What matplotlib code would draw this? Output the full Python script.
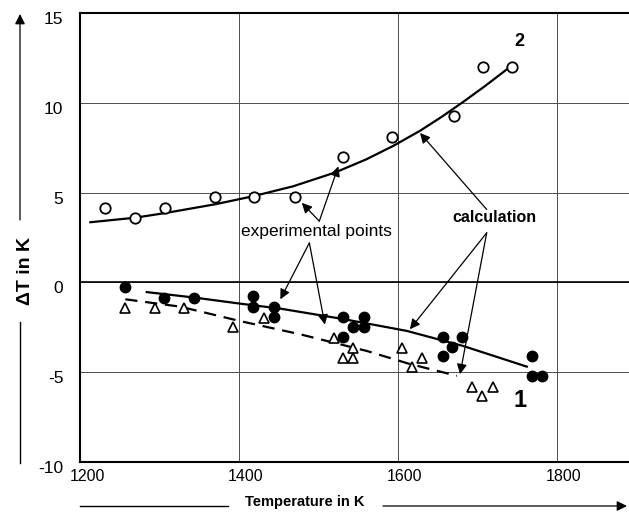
import matplotlib
matplotlib.use('Agg')
import matplotlib.pyplot as plt
from matplotlib.lines import Line2D
from matplotlib.transforms import ScaledTranslation

# Series 2: open circles and its calculated curve
t_open = [1231, 1269, 1307, 1370, 1419, 1470, 1531, 1593, 1670, 1707, 1744]
dt_open = [4.15, 3.59, 4.15, 4.74, 4.74, 4.74, 6.98, 8.09, 9.24, 12.02, 12.02]
t_calc2 = [1213, 1269, 1307, 1370, 1418, 1468, 1521, 1560, 1594, 1628, 1655, 1682, 1710, 1738]
dt_calc2 = [3.35, 3.60, 3.86, 4.35, 4.80, 5.35, 6.12, 6.85, 7.60, 8.45, 9.22, 10.05, 10.95, 11.9]

# Series 1: filled circles and solid calculated curve
t_filled = [1256, 1306, 1344, 1418, 1418, 1444, 1444, 1531, 1531, 1544,
            1557, 1557, 1656, 1656, 1668, 1681, 1768, 1768, 1781]
dt_filled = [-0.24, -0.85, -0.85, -0.76, -1.35, -1.35, -1.93, -1.93, -3.04, -2.46,
             -1.93, -2.46, -3.04, -4.09, -3.57, -3.04, -4.09, -5.2, -5.2]
t_calc1 = [1284, 1345, 1401, 1452, 1531, 1611, 1682, 1762]
dt_calc1 = [-0.54, -0.85, -1.18, -1.46, -2.04, -2.70, -3.54, -4.69]

# Open triangles and dashed calculated curve
t_tri = [1256, 1294, 1331, 1393, 1432, 1519, 1544, 1531, 1544, 1605,
         1630, 1618, 1693, 1706, 1719]
dt_tri = [-1.41, -1.41, -1.41, -2.46, -1.96, -3.07, -3.63, -4.19, -4.19, -3.63,
          -4.19, -4.69, -5.8, -6.31, -5.8]
t_calc3 = [1257, 1326, 1401, 1477, 1561, 1613, 1674]
dt_calc3 = [-0.94, -1.35, -2.15, -2.89, -3.82, -4.52, -5.2]

x_ticks = [1200, 1400, 1600, 1800]
y_ticks = [-10, -5, 0, 5, 10, 15]

sans = ['Liberation Sans', 'DejaVu Sans']

W, H = 629, 513
fig = plt.figure(figsize=(W / 100, H / 100), dpi=100)
ax = fig.add_axes([80 / W, 51 / H, 636 / W, 449 / H])

ax.set_xlim(1200, 2000)
ax.set_ylim(-10, 15)
ax.set_xticks(x_ticks)
ax.set_yticks(y_ticks)
ax.set_xticklabels([str(v) for v in x_ticks], family=sans, fontsize=11.5)
ax.set_yticklabels([str(v) for v in y_ticks], family=sans, fontsize=12.5)
ax.tick_params(length=0)
ax.tick_params(axis='y', pad=12)
ax.tick_params(axis='x', pad=5)
for lab in ax.get_xticklabels():
    lab.set_transform(lab.get_transform() + ScaledTranslation(0.07, 0, fig.dpi_scale_trans))
for lab in ax.get_yticklabels():
    lab.set_transform(lab.get_transform() + ScaledTranslation(0, -0.05, fig.dpi_scale_trans))

ax.grid(True, color='0.3', lw=0.7)
ax.axhline(0, color='black', lw=1.2)
for s in ['top', 'left', 'bottom']:
    ax.spines[s].set_linewidth(1.5)

# curves
ax.plot(t_calc2, dt_calc2, color='black', lw=1.6, zorder=3)
ax.plot(t_calc1, dt_calc1, color='black', lw=1.6, zorder=3)
ax.plot(t_calc3, dt_calc3, color='black', lw=1.6, dashes=(5.5, 3.5), zorder=3)

# experimental points
ax.plot(t_open, dt_open, 'o', ms=7.5, mfc='white', mec='black', mew=1.3, zorder=4)
ax.plot(t_filled, dt_filled, 'o', ms=7.5, mfc='black', mec='black', zorder=4)
ax.plot(t_tri, dt_tri, '^', ms=7, mfc='white', mec='black', mew=1.2, zorder=4)

# annotations
arrow = dict(arrowstyle='-|>', color='black', lw=0.9, mutation_scale=15,
             shrinkA=0, shrinkB=0)
ax.text(1498, 2.85, 'experimental points', family=sans, fontsize=12.5,
        ha='center', va='center', zorder=5)
for head in [(1479, 4.43), (1525, 6.46)]:
    ax.annotate('', xy=head, xytext=(1501, 3.41), arrowprops=arrow)
for head in [(1452, -0.94), (1508, -2.35)]:
    ax.annotate('', xy=head, xytext=(1488.5, 2.2), arrowprops=arrow)

ax.text(1721, 3.6, 'calculation', family=sans, fontsize=11.5, fontweight='bold',
        ha='center', va='center', zorder=5)
ax.annotate('', xy=(1627.7, 8.32), xytext=(1711.6, 4.06), arrowprops=arrow)
for head in [(1615, -2.61), (1678, -5.11)]:
    ax.annotate('', xy=head, xytext=(1711.6, 2.76), arrowprops=arrow)

ax.text(1753, 13.4, '2', family=sans, fontsize=13, fontweight='bold',
        ha='center', va='center')
ax.text(1754, -6.6, '1', family=sans, fontsize=17, fontweight='bold',
        ha='center', va='center')

# axis labels with arrow lines
fig.text(25 / W, 1 - 271 / H, 'ΔT in K', family=sans, fontsize=14, fontweight='bold',
         rotation=90, ha='center', va='center')
fig.add_artist(Line2D([20 / W, 20 / W], [1 - 322 / H, 1 - 463 / H],
                      color='black', lw=1.0))
ax.annotate('', xy=(20 / W, 1 - 14 / H), xytext=(20 / W, 1 - 220 / H),
            xycoords='figure fraction', textcoords='figure fraction',
            arrowprops=arrow, annotation_clip=False)

fig.text(305 / W, 1 - 502 / H, 'Temperature in K', family=sans, fontsize=10.5,
         fontweight='bold', ha='center', va='center')
fig.add_artist(Line2D([80 / W, 228 / W], [1 - 506 / H, 1 - 506 / H],
                      color='black', lw=1.0))
ax.annotate('', xy=(627 / W, 1 - 506 / H), xytext=(383 / W, 1 - 506 / H),
            xycoords='figure fraction', textcoords='figure fraction',
            arrowprops=arrow, annotation_clip=False)

fig.savefig('out.png', dpi=100)
